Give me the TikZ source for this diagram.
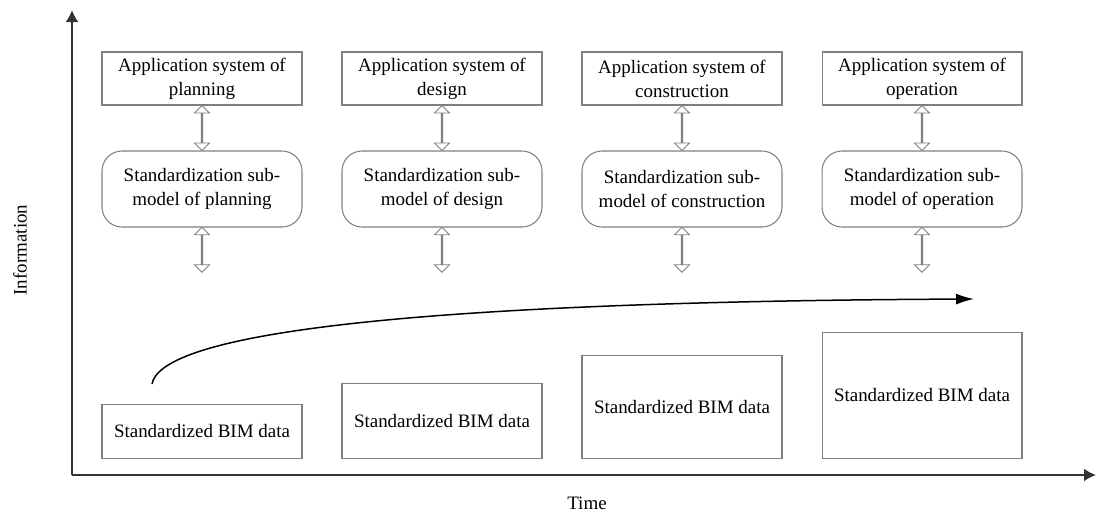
\documentclass[tikz,border=0pt]{standalone}
\usepackage{fontspec}
\setmainfont{Liberation Serif}
\usetikzlibrary{arrows.meta,shapes.arrows}

\begin{document}
\begin{tikzpicture}[>={Latex[length=0.36cm,width=0.22cm]}, x=0.02cm, y=-0.02cm,
	every node/.style={font=\rmfamily\fontsize{10.8}{13.7}\selectfont},
	appbox/.style={draw=gray, line width=0.6pt, minimum width=4cm, minimum height=1.06cm, align=center, inner sep=0pt},
	subbox/.style={draw=gray, line width=0.6pt, rounded corners=0.4cm, minimum width=4cm, minimum height=1.52cm, align=center, inner sep=0pt},
	databox/.style={draw=gray, line width=0.6pt, minimum width=4cm, align=center, inner sep=0pt},
	dblarrow/.style={double arrow, draw=gray, fill=white, line width=0.5pt, rotate=90, inner sep=0pt,
		minimum height=0.9cm, minimum width=0.3cm, double arrow head extend=0.09cm}]

	\useasboundingbox (0,0) rectangle (1096,515);

	% axes
	\coordinate (origin) at (72,475);
	\coordinate (ytop) at (72,10);
	\coordinate (xend) at (1096,475);
	\draw [black!80, line width=0.04cm, -{Latex[length=0.24cm,width=0.26cm]}] (origin) -- (ytop);
	\draw [black!80, line width=0.04cm, -{Latex[length=0.24cm,width=0.26cm]}] (origin) -- (xend);
	\node [rotate=90] (info) at (20,250) {Information};
	\node (time) at (587,503) {Time};

	% the four phases
	\foreach \n/\phase/\h in {1/planning/54, 2/design/75, 3/construction/103, 4/operation/126}
	{
		\node [appbox] (app\n) at ({202+240*(\n-1)},78.5) {Application system of\\\phase};
		\node [subbox] (sub\n) at ({202+240*(\n-1)},189) {Standardization sub-\\model of \phase};
		\node [databox, minimum height=\h*0.02cm, anchor=south] (data\n) at ({202+240*(\n-1)},459) {Standardized BIM data};
		\coordinate (end\n) at ({202+240*(\n-1)},272);
		\path (app\n.south) -- node [dblarrow] {} (sub\n.north);
		\path (sub\n.south) -- node [dblarrow] {} (end\n);
	}

	% growth of the data
	\coordinate (cstart) at (152,384);
	\coordinate (cend) at (974,299);
	\draw [->, line width=0.03cm] (cstart) .. controls (160,340) and (350,302) .. (cend);

\end{tikzpicture}
\end{document}
